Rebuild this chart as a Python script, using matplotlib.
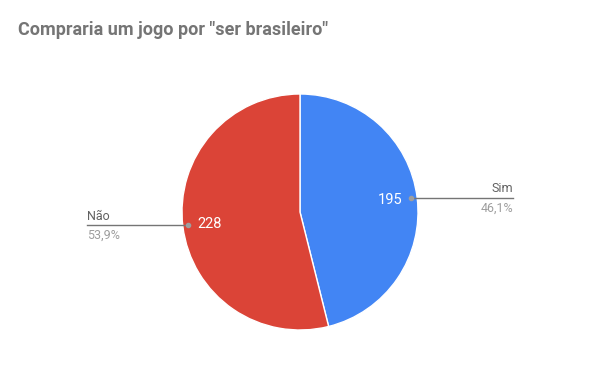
import matplotlib.pyplot as plt

# dados
rotulos = ['Sim', 'Não']
valores = [195, 228]
percentuais = ['46,1%', '53,9%']
cores = ['#4285F4', '#DB4437']

plt.rcParams['font.family'] = ['Roboto', 'DejaVu Sans']

fig = plt.figure(figsize=(6, 3.71), dpi=100)
ax = fig.add_axes([0, 0, 1, 1])

cx, cy, r = 300, 371 - 212, 118
fatias, _ = ax.pie(valores, colors=cores, startangle=90, counterclock=False,
                   center=(cx, cy), radius=r, frame=True,
                   wedgeprops=dict(edgecolor='white', linewidth=1))
ax.set_xlim(0, 600)
ax.set_ylim(0, 371)
ax.axis('off')

fig.text(18 / 600, 1 - 30 / 371, 'Compraria um jogo por "ser brasileiro"',
         fontsize=13, fontweight='bold', color='#757575', va='center', ha='left')

# rótulos internos
ax.text(390, 371 - 200, str(valores[0]), color='white', fontsize=10.5, ha='center', va='center')
ax.text(210, 371 - 224, str(valores[1]), color='white', fontsize=10.5, ha='center', va='center')

# linhas guia - Sim
ax.plot([411, 513], [371 - 198, 371 - 198], color='#757575', lw=1)
ax.plot([411], [371 - 198], 'o', color='#9e9e9e', ms=3)
ax.text(513, 371 - 189, rotulos[0], color='#616161', fontsize=9, ha='right', va='center')
ax.text(513, 371 - 208, percentuais[0], color='#9e9e9e', fontsize=9, ha='right', va='center')

# linhas guia - Não
ax.plot([87, 188], [371 - 225, 371 - 225], color='#757575', lw=1)
ax.plot([188], [371 - 225], 'o', color='#9e9e9e', ms=3)
ax.text(87, 371 - 216, rotulos[1], color='#616161', fontsize=9, ha='left', va='center')
ax.text(87, 371 - 235, percentuais[1], color='#9e9e9e', fontsize=9, ha='left', va='center')

fig.savefig('out.png', dpi=100, facecolor='white')
